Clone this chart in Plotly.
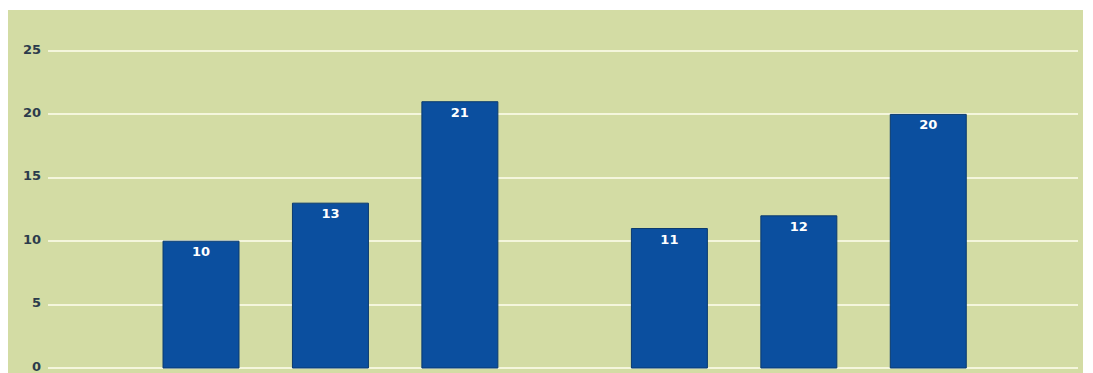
import plotly.graph_objects as go

groups = ["Group 1", "Group 2"]
series_names = ["Series 1", "Series 2", "Series 3"]
series_values = [
    [10, 11],
    [13, 12],
    [21, 20],
]
y_ticks = [0, 5, 10, 15, 20, 25]

bar_color = "#0b4f9f"
edge_color = "#0a3a6e"

fig = go.Figure()
for name, vals in zip(series_names, series_values):
    fig.add_trace(go.Bar(
        x=groups, y=vals, name=name,
        marker=dict(color=bar_color, line=dict(color=edge_color, width=1)),
        text=[str(v) for v in vals],
        textposition="inside", insidetextanchor="end",
        textfont=dict(family="DejaVu Sans", size=13, color="white", weight="bold"),
        textangle=0,
    ))

W, H = 1093, 373
ml, mr, mt, mb = 48, 15, 10, 0
pw = W - ml - mr
ph = H - mt - mb
px_per_unit = 12.68
zero_px = 368  # pixel row of value 0

fig.update_layout(
    width=W, height=H,
    margin=dict(l=ml, r=mr, t=mt, b=mb, pad=0, autoexpand=False),
    barmode="group", bargap=0.171, bargroupgap=0.413,
    paper_bgcolor="white", plot_bgcolor="rgba(0,0,0,0)",
    showlegend=False,
    uniformtext=dict(mode="show", minsize=12),
    xaxis=dict(showticklabels=False, showgrid=False, zeroline=False,
               range=[-0.603, 1.596], fixedrange=True, automargin=False),
    yaxis=dict(range=[-(H - mb - zero_px) / px_per_unit, (zero_px - mt) / px_per_unit],
               tickvals=y_ticks, automargin=False,
               showgrid=True, gridcolor="#f4f6dc", gridwidth=2,
               zeroline=True, zerolinecolor="#f4f6dc", zerolinewidth=2,
               tickfont=dict(family="DejaVu Sans", size=13, color="#2c3b4c", weight="bold"),
               ticklabelstandoff=6, ticklabelshift=-2, ticklabeloverflow="allow",
               showline=False, fixedrange=True),
    shapes=[dict(type="rect", xref="paper", yref="paper", layer="below",
                 x0=(8 - ml) / pw, x1=(1083 - ml) / pw,
                 y0=0, y1=1,
                 fillcolor="#d3dca4", line=dict(width=0))],
)

fig.write_html("out.html",
               config={"displayModeBar": False},
               post_script="document.body.style.margin='0';document.body.style.overflow='hidden';")
